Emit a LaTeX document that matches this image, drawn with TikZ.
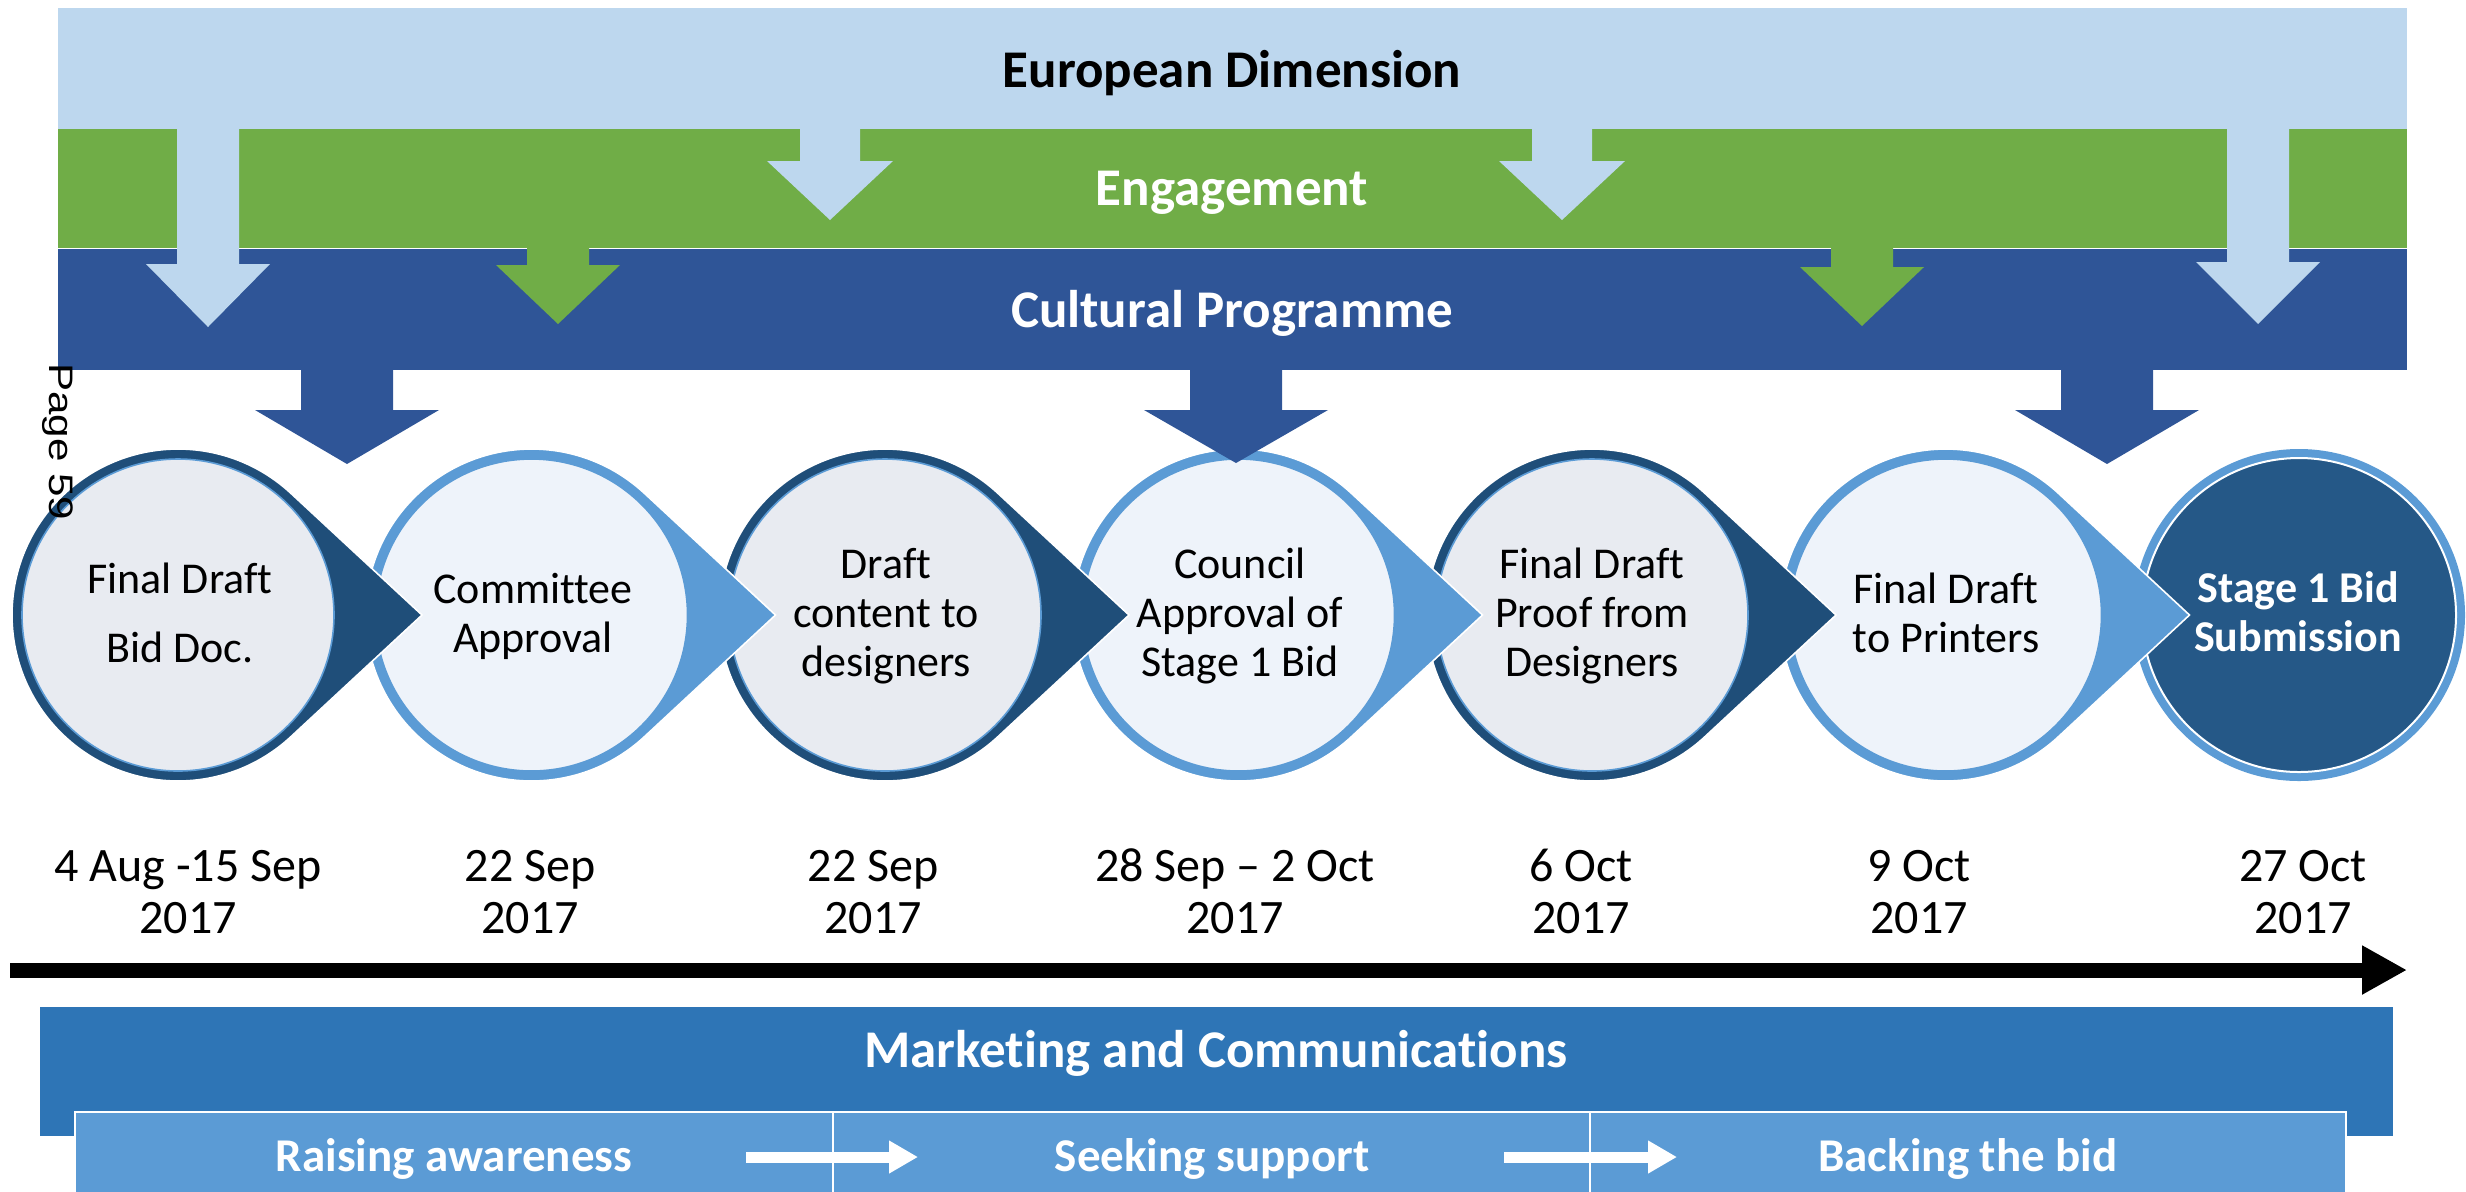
\documentclass[tikz,border=0pt]{standalone}
\usepackage{fontspec}
\usepackage{graphicx}
\setmainfont[Ligatures={NoCommon}]{Carlito}
\newfontfamily\pagefont{Liberation Sans}
\usetikzlibrary{arrows.meta}
\definecolor{bandLight}{HTML}{BDD7EE}
\definecolor{bandGreen}{HTML}{70AD47}
\definecolor{bandDark}{HTML}{2F5597}
\definecolor{ringDark}{HTML}{1F4E79}
\definecolor{ringLight}{HTML}{5B9BD5}
\definecolor{fillOdd}{HTML}{E8EBF1}
\definecolor{fillEven}{HTML}{EEF3FA}
\definecolor{fillLast}{HTML}{255887}
\definecolor{mktBlue}{HTML}{2E75B6}
\definecolor{subBlue}{HTML}{5B9BD5}
\newcommand\dnarrow[7]{\fill[#7] (#1-#5,#2) -- (#1+#5,#2) -- (#1+#5,#3) -- (#1+#6,#3) -- (#1,#4) -- (#1-#6,#3) -- (#1-#5,#3) -- cycle;}
\newcommand\mlines[1]{\begin{tabular}[t]{@{}c@{}}#1\end{tabular}}
\begin{document}
\begin{tikzpicture}[x=0.5pt,y=-0.5pt,
  btitle/.style={font=\fontsize{26.5}{30}\selectfont\bfseries, text=white, inner sep=0, anchor=base},
  ctext/.style={font=\fontsize{22}{24.5}\selectfont, inner sep=0, anchor=base},
  dtext/.style={font=\fontsize{24}{26}\selectfont, inner sep=0, anchor=base},
  sublabel/.style={font=\fontsize{23.5}{26}\selectfont\bfseries, text=white, inner sep=0, anchor=base},
  wharrow/.style={white, line width=5.5pt, -{Triangle[length=14.5pt,width=15.5pt]}}]
\useasboundingbox (0,0) rectangle (2466,1191);

% bands
\fill[bandLight] (58,8) rectangle (2407,129);
\fill[bandGreen] (58,129) rectangle (2407,248);
\fill[bandDark] (58,249) rectangle (2407,370);
\draw[white, line width=0.8pt] (58,248.5) -- (2407,248.5);

% light blue arrows
\dnarrow{208}{120}{264}{327}{31}{62}{bandLight}
\dnarrow{830}{120}{161}{220}{30}{63}{bandLight}
\dnarrow{1562}{120}{161}{220}{30}{63}{bandLight}
\dnarrow{2258}{120}{262}{324}{31}{62}{bandLight}
% green arrows
\dnarrow{558}{246}{265}{324}{31}{62}{bandGreen}
\dnarrow{1862}{246}{267}{326}{31}{62}{bandGreen}

\node[btitle, text=black] (ed) at (1232,87) {European Dimension};
\node[btitle] (eng) at (1232,205) {Engagement};
\node[btitle] (cp) at (1232,327) {Cultural Programme};

% circles (right to left)
\fill[ringLight] (2299,615) circle[radius=166];
\filldraw[fill=fillLast, draw=white, line width=1pt] (2299,615) circle[radius=157];
\foreach \cx/\ring/\fillc/\inner in {1945.5/ringLight/fillEven/ringLight, 1592/ringDark/fillOdd/ringLight, 1238.5/ringLight/fillEven/ringLight, 885/ringDark/fillOdd/ringLight, 531.5/ringLight/fillEven/ringLight, 178/ringDark/fillOdd/ringLight}{
  \filldraw[fill=\ring, draw=white, line width=0.8pt] (\cx+113,493.4) arc[start angle=-47.1, end angle=-312.9, radius=166] -- (\cx+244,615) -- cycle;
  \filldraw[fill=\fillc, draw=\inner, line width=0.8pt] (\cx,615) circle[radius=156];
}

% dark blue arrows
\dnarrow{347}{369}{410}{464}{46}{92}{bandDark}
\dnarrow{1236}{369}{410}{463}{46}{92}{bandDark}
\dnarrow{2107}{369}{410}{464}{46}{92}{bandDark}

% circle texts
\node[ctext] (t1) at (180,593) {\mlines{Final Draft\\[10pt]Bid Doc.}};
\node[ctext] (t2) at (533,603) {\mlines{Committee\\Approval}};
\node[ctext] (t3) at (886,578) {\mlines{Draft\\content to\\designers}};
\node[ctext] (t4) at (1240,578) {\mlines{Council\\Approval of\\Stage 1 Bid}};
\node[ctext] (t5) at (1592,578) {\mlines{Final Draft\\Proof from\\Designers}};
\node[ctext] (t6) at (1946,603) {\mlines{Final Draft\\to Printers}};
\node[ctext, font=\fontsize{22}{24.5}\selectfont\bfseries, text=white] (t7) at (2298,602) {\mlines{Stage 1 Bid\\Submission}};

% dates
\node[dtext] (d1) at (188,881) {\mlines{4 Aug -15 Sep\\2017}};
\node[dtext] (d2) at (530,881) {\mlines{22 Sep\\2017}};
\node[dtext] (d3) at (873,881) {\mlines{22 Sep\\2017}};
\node[dtext] (d4) at (1235,881) {\mlines{28 Sep – 2 Oct\\2017}};
\node[dtext] (d5) at (1581,881) {\mlines{6 Oct\\2017}};
\node[dtext] (d6) at (1919,881) {\mlines{9 Oct\\2017}};
\node[dtext] (d7) at (2303,881) {\mlines{27 Oct\\2017}};

% timeline
\coordinate (tl0) at (10,970);
\coordinate (tl1) at (2407,970);
\draw[black, line width=7.5pt, -{Triangle[length=22.5pt,width=23pt]}] (tl0) -- (tl1);

% marketing
\fill[mktBlue] (40,1007) rectangle (2393,1136);
\node[btitle] (mk) at (1216,1067) {Marketing and Communications};
\filldraw[fill=subBlue, draw=white, line width=0.8pt] (75,1112) rectangle (833,1200);
\filldraw[fill=subBlue, draw=white, line width=0.8pt] (833,1112) rectangle (1590,1200);
\filldraw[fill=subBlue, draw=white, line width=0.8pt] (1590,1112) rectangle (2346,1200);
\node[sublabel] (s1) at (454,1171) {Raising awareness};
\node[sublabel] (s2) at (1212,1171) {Seeking support};
\node[sublabel] (s3) at (1968,1171) {Backing the bid};
\coordinate (wa1s) at (746,1157);
\coordinate (wa1e) at (918,1157);
\coordinate (wa2s) at (1504,1157);
\coordinate (wa2e) at (1677,1157);
\draw[wharrow] (wa1s) -- (wa1e);
\draw[wharrow] (wa2s) -- (wa2e);

% page stamp
\node[rotate=-90, anchor=base west, inner sep=0, font=\pagefont\fontsize{17}{20}\selectfont] (pg) at (49,363) {\scalebox{1.24}[1]{Page 59}};
\end{tikzpicture}
\end{document}
